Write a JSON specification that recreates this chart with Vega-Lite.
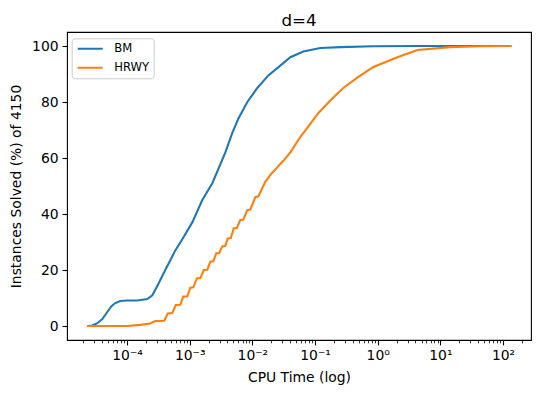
{
  "$schema": "https://vega.github.io/schema/vega-lite/v6.json",
  "width": 464,
  "height": 308,
  "autosize": "none",
  "padding": {"left": 67, "top": 32, "right": 9, "bottom": 58},
  "config": {
    "font": "DejaVu Sans",
    "view": {"stroke": "black", "strokeWidth": 1.1},
    "axis": {"grid": false, "domain": false, "tickColor": "black", "labelColor": "black", "titleColor": "black", "labelFont": "DejaVu Sans", "titleFont": "DejaVu Sans", "titleFontWeight": "normal"}
  },
  "title": {"text": "d=4", "fontSize": 16.7, "fontWeight": "normal", "font": "DejaVu Sans", "color": "black", "anchor": "middle", "frame": "group", "baseline": "bottom", "offset": -15},
  "data": {"values": [
    {"series": "BM", "t": 2.33e-5, "pct": 0},
    {"series": "BM", "t": 2.79e-5, "pct": 0.2},
    {"series": "BM", "t": 3.36e-5, "pct": 1},
    {"series": "BM", "t": 4.04e-5, "pct": 2.5},
    {"series": "BM", "t": 4.85e-5, "pct": 5},
    {"series": "BM", "t": 5.61e-5, "pct": 7},
    {"series": "BM", "t": 6.5e-5, "pct": 8.2},
    {"series": "BM", "t": 7.81e-5, "pct": 8.9},
    {"series": "BM", "t": 1.01e-4, "pct": 9.1},
    {"series": "BM", "t": 1.46e-4, "pct": 9.1},
    {"series": "BM", "t": 2.11e-4, "pct": 9.6},
    {"series": "BM", "t": 2.54e-4, "pct": 11},
    {"series": "BM", "t": 3.16e-4, "pct": 15},
    {"series": "BM", "t": 4.08e-4, "pct": 20},
    {"series": "BM", "t": 4.91e-4, "pct": 23.5},
    {"series": "BM", "t": 5.9e-4, "pct": 27},
    {"series": "BM", "t": 7.63e-4, "pct": 31},
    {"series": "BM", "t": 1.1e-3, "pct": 37},
    {"series": "BM", "t": 1.59e-3, "pct": 45},
    {"series": "BM", "t": 2.3e-3, "pct": 51},
    {"series": "BM", "t": 3.71e-3, "pct": 62},
    {"series": "BM", "t": 4.79e-3, "pct": 69},
    {"series": "BM", "t": 5.97e-3, "pct": 74},
    {"series": "BM", "t": 8.32e-3, "pct": 80},
    {"series": "BM", "t": 1.2e-2, "pct": 85},
    {"series": "BM", "t": 1.8e-2, "pct": 89.5},
    {"series": "BM", "t": 2.79e-2, "pct": 93},
    {"series": "BM", "t": 4.04e-2, "pct": 96},
    {"series": "BM", "t": 6.5e-2, "pct": 98},
    {"series": "BM", "t": 0.1216, "pct": 99.3},
    {"series": "BM", "t": 0.2535, "pct": 99.6},
    {"series": "BM", "t": 0.854, "pct": 99.9},
    {"series": "BM", "t": 4.79, "pct": 100},
    {"series": "BM", "t": 135.9, "pct": 100},
    {"series": "HRWY", "t": 2.33e-5, "pct": 0},
    {"series": "HRWY", "t": 1.01e-4, "pct": 0},
    {"series": "HRWY", "t": 1.63e-4, "pct": 0.4},
    {"series": "HRWY", "t": 2.35e-4, "pct": 0.9},
    {"series": "HRWY", "t": 2.83e-4, "pct": 1.8},
    {"series": "HRWY", "t": 3.94e-4, "pct": 1.9},
    {"series": "HRWY", "t": 4.48e-4, "pct": 4.5},
    {"series": "HRWY", "t": 5.28e-4, "pct": 4.6},
    {"series": "HRWY", "t": 6.01e-4, "pct": 7.5},
    {"series": "HRWY", "t": 7.09e-4, "pct": 7.6},
    {"series": "HRWY", "t": 7.91e-4, "pct": 10.5},
    {"series": "HRWY", "t": 9.17e-4, "pct": 10.6},
    {"series": "HRWY", "t": 1.023e-3, "pct": 13.7},
    {"series": "HRWY", "t": 1.143e-3, "pct": 13.8},
    {"series": "HRWY", "t": 1.3e-3, "pct": 17},
    {"series": "HRWY", "t": 1.479e-3, "pct": 17.1},
    {"series": "HRWY", "t": 1.681e-3, "pct": 20},
    {"series": "HRWY", "t": 1.911e-3, "pct": 20.1},
    {"series": "HRWY", "t": 2.134e-3, "pct": 23},
    {"series": "HRWY", "t": 2.383e-3, "pct": 23.1},
    {"series": "HRWY", "t": 2.66e-3, "pct": 26},
    {"series": "HRWY", "t": 2.97e-3, "pct": 26.1},
    {"series": "HRWY", "t": 3.317e-3, "pct": 28.5},
    {"series": "HRWY", "t": 3.703e-3, "pct": 28.6},
    {"series": "HRWY", "t": 4.059e-3, "pct": 31.3},
    {"series": "HRWY", "t": 4.532e-3, "pct": 31.4},
    {"series": "HRWY", "t": 5.06e-3, "pct": 34.9},
    {"series": "HRWY", "t": 5.649e-3, "pct": 35},
    {"series": "HRWY", "t": 6.425e-3, "pct": 37.9},
    {"series": "HRWY", "t": 7.174e-3, "pct": 38},
    {"series": "HRWY", "t": 8.31e-3, "pct": 41.4},
    {"series": "HRWY", "t": 9.279e-3, "pct": 41.6},
    {"series": "HRWY", "t": 1.115e-2, "pct": 46},
    {"series": "HRWY", "t": 1.245e-2, "pct": 46.3},
    {"series": "HRWY", "t": 1.609e-2, "pct": 51.5},
    {"series": "HRWY", "t": 1.935e-2, "pct": 54},
    {"series": "HRWY", "t": 3.12e-2, "pct": 59},
    {"series": "HRWY", "t": 4.04e-2, "pct": 62},
    {"series": "HRWY", "t": 5.82e-2, "pct": 67.5},
    {"series": "HRWY", "t": 0.1127, "pct": 76},
    {"series": "HRWY", "t": 0.175, "pct": 80.5},
    {"series": "HRWY", "t": 0.282, "pct": 85},
    {"series": "HRWY", "t": 0.49, "pct": 89},
    {"series": "HRWY", "t": 0.854, "pct": 92.5},
    {"series": "HRWY", "t": 2.06, "pct": 96},
    {"series": "HRWY", "t": 4.29, "pct": 98.6},
    {"series": "HRWY", "t": 14.4, "pct": 99.6},
    {"series": "HRWY", "t": 43.4, "pct": 99.9},
    {"series": "HRWY", "t": 135.9, "pct": 100}
  ]},
  "layer": [
    {
      "mark": {"type": "line", "strokeWidth": 2.08, "clip": true},
      "encoding": {
        "x": {"field": "t", "type": "quantitative",
          "scale": {"type": "log", "domain": [1.104e-5, 279], "nice": false, "zero": false},
          "axis": {"orient": "bottom", "values": [0.0001, 0.001, 0.01, 0.1, 1, 10, 100], "tickSize": 4.9, "tickWidth": 1.1, "labelPadding": 4, "labelFontSize": 13.9, "title": "CPU Time (log)", "titleFontSize": 13.9, "titlePadding": 8,
            "labelExpr": "datum.value < 0.0005 ? '10⁻⁴' : datum.value < 0.005 ? '10⁻³' : datum.value < 0.05 ? '10⁻²' : datum.value < 0.5 ? '10⁻¹' : datum.value < 5 ? '10⁰' : datum.value < 50 ? '10¹' : '10²'"}},
        "y": {"field": "pct", "type": "quantitative",
          "scale": {"domain": [-5, 105], "nice": false, "zero": false},
          "axis": {"values": [0, 20, 40, 60, 80, 100], "tickSize": 4.9, "tickWidth": 1.1, "labelPadding": 4, "labelFontSize": 13.9, "title": "Instances Solved (%) of 4150", "titleFontSize": 13.9, "titlePadding": 8}},
        "color": {"field": "series", "type": "nominal",
          "scale": {"domain": ["BM", "HRWY"], "range": ["#1f77b4", "#ff7f0e"]},
          "legend": {"title": null, "orient": "none", "legendX": 4.7, "legendY": 6.3, "symbolType": "stroke", "symbolSize": 625, "symbolStrokeWidth": 2.08, "clipHeight": 12, "labelFontSize": 11.6, "labelOffset": 10, "labelColor": "black", "strokeColor": "#cccccc", "fillColor": "white", "cornerRadius": 3, "padding": 4.5, "rowPadding": 7}}
      }
    },
    {
      "mark": {"type": "line", "opacity": 0},
      "encoding": {
        "x": {"field": "t", "type": "quantitative",
          "axis": {"orient": "bottom", "values": [2e-5, 3e-5, 4e-5, 5e-5, 6e-5, 7e-5, 8e-5, 9e-5, 2e-4, 3e-4, 4e-4, 5e-4, 6e-4, 7e-4, 8e-4, 9e-4, 2e-3, 3e-3, 4e-3, 5e-3, 6e-3, 7e-3, 8e-3, 9e-3, 2e-2, 3e-2, 4e-2, 5e-2, 6e-2, 7e-2, 8e-2, 9e-2, 0.2, 0.3, 0.4, 0.5, 0.6, 0.7, 0.8, 0.9, 2, 3, 4, 5, 6, 7, 8, 9, 20, 30, 40, 50, 60, 70, 80, 90, 200], "tickSize": 2.8, "tickWidth": 0.8, "labels": false, "title": null}},
        "y": {"field": "pct", "type": "quantitative"},
        "detail": {"field": "series"}
      }
    }
  ],
  "resolve": {"axis": {"x": "independent"}}
}
